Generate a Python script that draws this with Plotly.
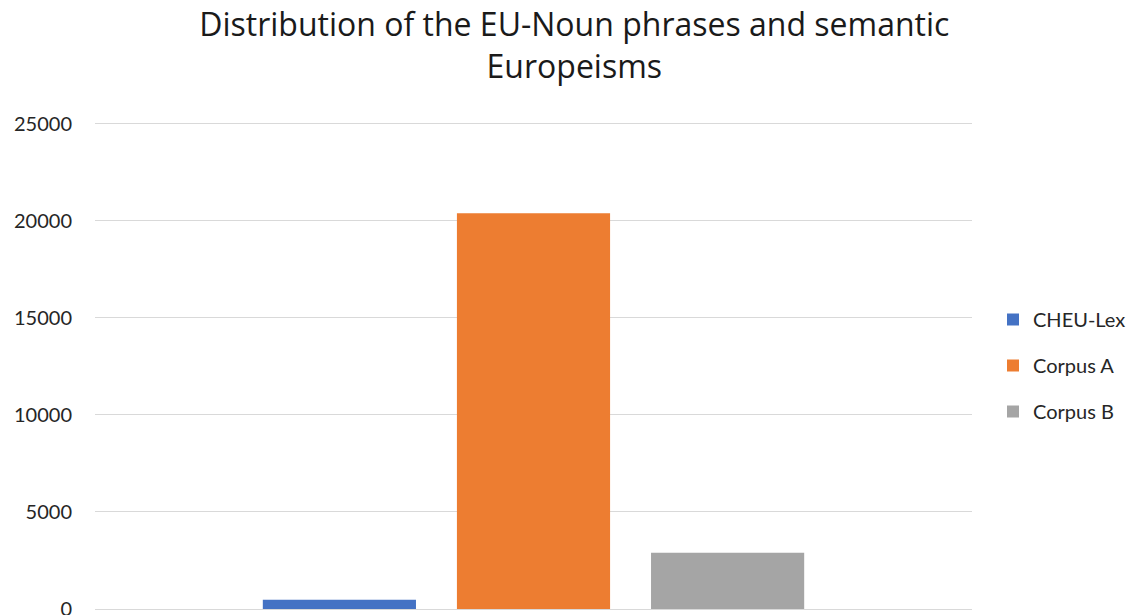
import plotly.graph_objects as go

# Data
category = ["EU-Noun phrases"]
series_names = ["CHEU-Lex", "Corpus A", "Corpus B"]
cheu_lex = [480]
corpus_a = [20400]
corpus_b = [2900]
series_colors = ["#4472C4", "#ED7D31", "#A5A5A5"]
y_ticks = [0, 5000, 10000, 15000, 20000, 25000]
y_tick_text = [str(v) for v in y_ticks]

FONT = "Lato"
TITLE_FONT = "Open Sans"

fig = go.Figure()
for name, vals, color in zip(series_names, [cheu_lex, corpus_a, corpus_b], series_colors):
    fig.add_trace(go.Bar(
        x=category, y=vals, name=name, legendgroup=name,
        marker=dict(color=color, line=dict(width=0)),
    ))

fig.update_layout(
    width=1135, height=615,
    margin=dict(l=95, r=163, t=122, b=6, autoexpand=False),
    paper_bgcolor="white", plot_bgcolor="white",
    barmode="group", bargap=0.336, bargroupgap=0.211,
    title=dict(
        text="Distribution of the EU-Noun phrases and semantic<br>Europeisms",
        x=0.506, xref="container", xanchor="center",
        y=0.941, yref="container", yanchor="top",
        font=dict(family=TITLE_FONT, size=32, color="#1a1a1a"),
    ),
    font=dict(family=FONT, color="#262626"),
    showlegend=True,
    legend=dict(
        x=(993 - 95) / (1135 - 95 - 163), xref="paper",
        y=0.5, yanchor="middle",
        font=dict(family=FONT, size=20, color="#262626"),
        tracegroupgap=17, traceorder="grouped",
        bgcolor="rgba(0,0,0,0)",
    ),
    xaxis=dict(showticklabels=False, showgrid=False, zeroline=False,
               showline=False, ticks="", automargin=False),
    yaxis=dict(range=[0, 25100], tickvals=y_ticks, ticktext=y_tick_text,
               showgrid=True, gridcolor="#D9D9D9", gridwidth=1.3,
               zeroline=True, zerolinecolor="#D9D9D9", zerolinewidth=1.3,
               showline=False, ticks="", ticklabelstandoff=22,
               ticklabeloverflow="allow", automargin=False,
               tickfont=dict(family=FONT, size=20, color="#262626")),
)

fig.write_html("out.html")
